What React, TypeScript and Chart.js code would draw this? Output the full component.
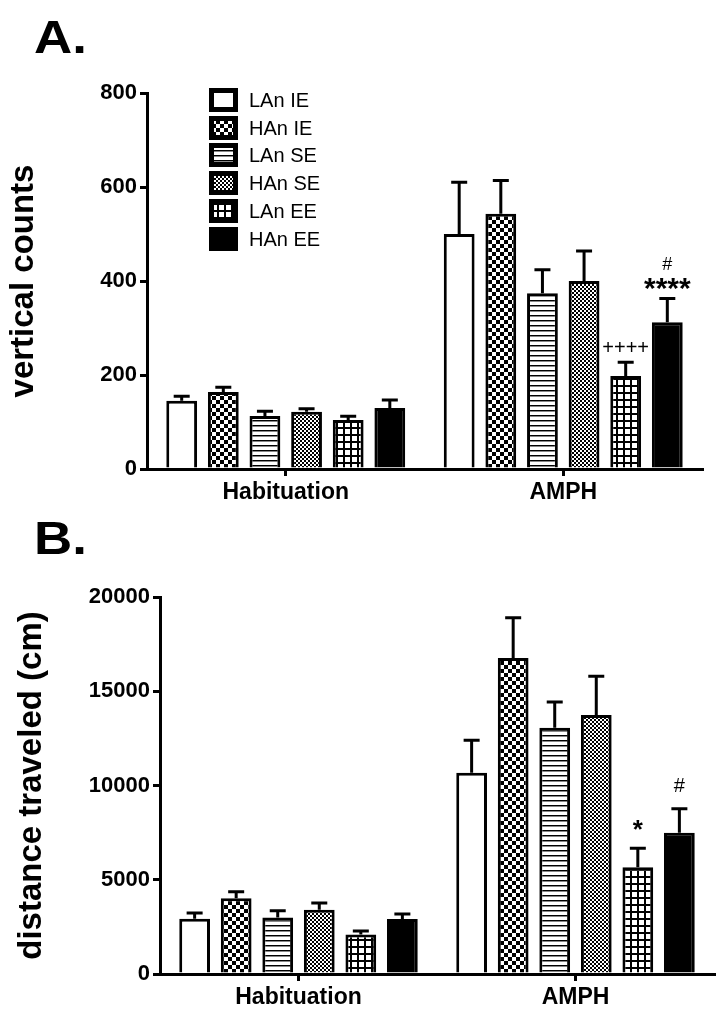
import React, { useEffect, useRef } from "react";
import { Chart, registerables } from "chart.js";

Chart.register(...registerables);

const FONT = '"Liberation Sans", Arial, Helvetica, sans-serif';

// ---------- data ----------
const categories = ["Habituation", "AMPH"];
const groupLabels = ["LAn IE", "HAn IE", "LAn SE", "HAn SE", "LAn EE", "HAn EE"];
const groupFills = ["white", "checker", "hlines", "fine", "grid", "black"];

// Panel A: vertical counts (mean per group: [Habituation, AMPH])
const countsMean = [
  [145, 500],
  [164, 543],
  [113, 374],
  [122, 400],
  [104, 198],
  [130, 312],
];
const countsSem = [
  [10, 110],
  [10, 71],
  [10, 50],
  [6, 64],
  [8, 29],
  [17, 51],
];
const countsTicks = [0, 200, 400, 600, 800];

// Panel B: distance traveled (cm)
const distMean = [
  [2930, 10680],
  [4020, 16760],
  [3000, 13070],
  [3410, 13740],
  [2100, 5660],
  [2920, 7500],
];
const distSem = [
  [310, 1720],
  [350, 2140],
  [360, 1360],
  [360, 2060],
  [180, 1010],
  [260, 1270],
];
const distTicks = [0, 5000, 10000, 15000, 20000];

// significance marks: [category index, group index, text]
const countsMarks: [number, number, string][] = [
  [1, 4, "++++"],
  [1, 5, "****"],
  [1, 5, "#"],
];
const distMarks: [number, number, string][] = [
  [1, 4, "*"],
  [1, 5, "#"],
];

// ---------- styling ----------
const markStyle: Record<string, { font: string; dy: number }> = {
  "++++": { font: `20px ${FONT}`, dy: 8 },
  "****": { font: `bold 30px ${FONT}`, dy: 0 },
  "#": { font: `18px ${FONT}`, dy: 28 },
};
const markStyleB: Record<string, { font: string; dy: number }> = {
  "*": { font: `bold 26px ${FONT}`, dy: 10 },
  "#": { font: `20px ${FONT}`, dy: 17 },
};

function makeFill(kind: string): any {
  if (kind === "white") return "#ffffff";
  if (kind === "black") return "#000000";
  const c = document.createElement("canvas");
  const g = c.getContext("2d")!;
  if (kind === "checker") {
    c.width = 8; c.height = 8;
    g.fillStyle = "#fff"; g.fillRect(0, 0, 8, 8);
    g.fillStyle = "#000"; g.fillRect(0, 0, 4, 4); g.fillRect(4, 4, 4, 4);
  } else if (kind === "fine") {
    c.width = 4; c.height = 4;
    g.fillStyle = "#fff"; g.fillRect(0, 0, 4, 4);
    g.fillStyle = "#000"; g.fillRect(0, 0, 2, 2); g.fillRect(2, 2, 2, 2);
  } else if (kind === "hlines") {
    c.width = 4; c.height = 5;
    g.fillStyle = "#fff"; g.fillRect(0, 0, 4, 5);
    g.fillStyle = "#000"; g.fillRect(0, 0, 4, 1);
    g.fillStyle = "#888"; g.fillRect(0, 1, 4, 1);
  } else if (kind === "grid") {
    c.width = 7; c.height = 7;
    g.fillStyle = "#fff"; g.fillRect(0, 0, 7, 7);
    g.fillStyle = "#000"; g.fillRect(0, 0, 7, 2); g.fillRect(0, 0, 2, 7);
  }
  return g.createPattern(c, "repeat");
}

type PanelCfg = {
  means: number[][];
  sems: number[][];
  ticks: number[];
  title: string;
  titleSize: number;
  titlePad: number;
  marks: [number, number, string][];
  styles: Record<string, { font: string; dy: number }>;
  legend: boolean;
  padTop: number;
  padRight: number;
  yWidth: number;
  xHeight: number;
};

function buildChart(canvas: HTMLCanvasElement, p: PanelCfg) {
  const fills = groupFills.map(makeFill);
  const step = p.ticks[1] - p.ticks[0];

  const errorBars = {
    id: "errorBars",
    afterDatasetsDraw(chart: any) {
      const ctx = chart.ctx;
      const ys = chart.scales.y;
      ctx.save();
      ctx.strokeStyle = "#000";
      ctx.lineWidth = 3;
      chart.data.datasets.forEach((ds: any, i: number) => {
        const meta = chart.getDatasetMeta(i);
        meta.data.forEach((bar: any, j: number) => {
          const top = ys.getPixelForValue(ds.data[j] + p.sems[i][j]);
          ctx.beginPath();
          ctx.moveTo(bar.x, bar.y);
          ctx.lineTo(bar.x, top);
          ctx.moveTo(bar.x - 8, top);
          ctx.lineTo(bar.x + 8, top);
          ctx.stroke();
        });
      });
      ctx.restore();
    },
  };

  const marksPlugin = {
    id: "sigMarks",
    afterDraw(chart: any) {
      const ctx = chart.ctx;
      const ys = chart.scales.y;
      ctx.save();
      ctx.fillStyle = "#000";
      ctx.textAlign = "center";
      ctx.textBaseline = "alphabetic";
      p.marks.forEach(([cat, grp, text]) => {
        const bar = chart.getDatasetMeta(grp).data[cat];
        const top = ys.getPixelForValue(p.means[grp][cat] + p.sems[grp][cat]);
        const st = p.styles[text];
        ctx.font = st.font;
        ctx.fillText(text, bar.x, top - st.dy);
      });
      ctx.restore();
    },
  };

  const legendPlugin = {
    id: "boxLegend",
    afterDraw(chart: any) {
      if (!p.legend) return;
      const ctx = chart.ctx;
      ctx.save();
      const x0 = 209, y0 = 88, w = 29, h = 24, gap = 27.7, b = 5;
      groupLabels.forEach((lab, i) => {
        const y = Math.round(y0 + i * gap);
        ctx.fillStyle = "#000";
        ctx.fillRect(x0, y, w, h);
        ctx.fillStyle = fills[i];
        ctx.fillRect(x0 + b, y + b, w - 2 * b, h - 2 * b);
        ctx.fillStyle = "#000";
        ctx.font = `20px ${FONT}`;
        ctx.textAlign = "left";
        ctx.textBaseline = "middle";
        ctx.fillText(lab, x0 + w + 11, y + h / 2 + 1);
      });
      ctx.restore();
    },
  };

  const tickFont = { family: FONT, size: 22, weight: "bold" as const };

  return new Chart(canvas, {
    type: "bar",
    data: {
      labels: categories,
      datasets: groupLabels.map((lab, i) => ({
        label: lab,
        data: p.means[i],
        backgroundColor: fills[i],
        borderColor: "#000",
        borderWidth: 3,
        barPercentage: 0.74,
        categoryPercentage: 0.9,
      })),
    },
    options: {
      animation: false,
      responsive: false,
      layout: { padding: { left: 4, right: p.padRight, top: p.padTop, bottom: 0 } },
      plugins: { legend: { display: false }, tooltip: { enabled: false } },
      scales: {
        x: {
          z: 1,
          grid: { drawOnChartArea: false, offset: false, tickLength: 7, lineWidth: 3, color: "#000" },
          border: { display: true, color: "#000", width: 3 },
          ticks: { font: { family: FONT, size: 23, weight: "bold" }, color: "#000", padding: 3 },
          afterFit: (s: any) => { s.height = p.xHeight; },
        },
        y: {
          z: 1,
          min: p.ticks[0],
          max: p.ticks[p.ticks.length - 1],
          grid: { drawOnChartArea: false, tickLength: 7, lineWidth: 3, color: "#000" },
          border: { display: true, color: "#000", width: 3 },
          ticks: {
            stepSize: step,
            font: tickFont,
            color: "#000",
            padding: 3,
            callback: (v: any) => String(v),
          },
          title: {
            display: true,
            text: p.title,
            color: "#000",
            font: { family: FONT, size: p.titleSize, weight: "bold" },
            padding: { top: p.titlePad, bottom: 0 },
          },
          afterFit: (s: any) => { s.width = p.yWidth; },
        },
      },
    },
    plugins: [errorBars, marksPlugin, legendPlugin],
  } as any);
}

export default function App() {
  const refA = useRef<HTMLCanvasElement>(null);
  const refB = useRef<HTMLCanvasElement>(null);

  useEffect(() => {
    const a = buildChart(refA.current!, {
      means: countsMean,
      sems: countsSem,
      ticks: countsTicks,
      title: "vertical counts",
      titleSize: 33,
      titlePad: 0,
      marks: countsMarks,
      styles: markStyle,
      legend: true,
      padTop: 93,
      padRight: 22,
      yWidth: 143,
      xHeight: 36,
    });
    const b = buildChart(refB.current!, {
      means: distMean,
      sems: distSem,
      ticks: distTicks,
      title: "distance traveled (cm)",
      titleSize: 33,
      titlePad: 8,
      marks: distMarks,
      styles: markStyleB,
      legend: false,
      padTop: 92,
      padRight: 10,
      yWidth: 156,
      xHeight: 44,
    });
    return () => {
      a.destroy();
      b.destroy();
    };
  }, []);

  const letter: React.CSSProperties = {
    position: "absolute",
    left: 34,
    font: `bold 46px ${FONT}`,
    lineHeight: 1,
    color: "#000",
    transform: "scaleX(1.15)",
    transformOrigin: "left top",
  };

  return (
    <div style={{ position: "absolute", left: 0, top: 0, width: 724, height: 1018, background: "#fff" }}>
      <canvas ref={refA} width={724} height={505} style={{ position: "absolute", left: 0, top: 0 }} />
      <canvas ref={refB} width={724} height={513} style={{ position: "absolute", left: 0, top: 505 }} />
      <div style={{ ...letter, top: 14 }}>A.</div>
      <div style={{ ...letter, top: 515 }}>B.</div>
    </div>
  );
}
